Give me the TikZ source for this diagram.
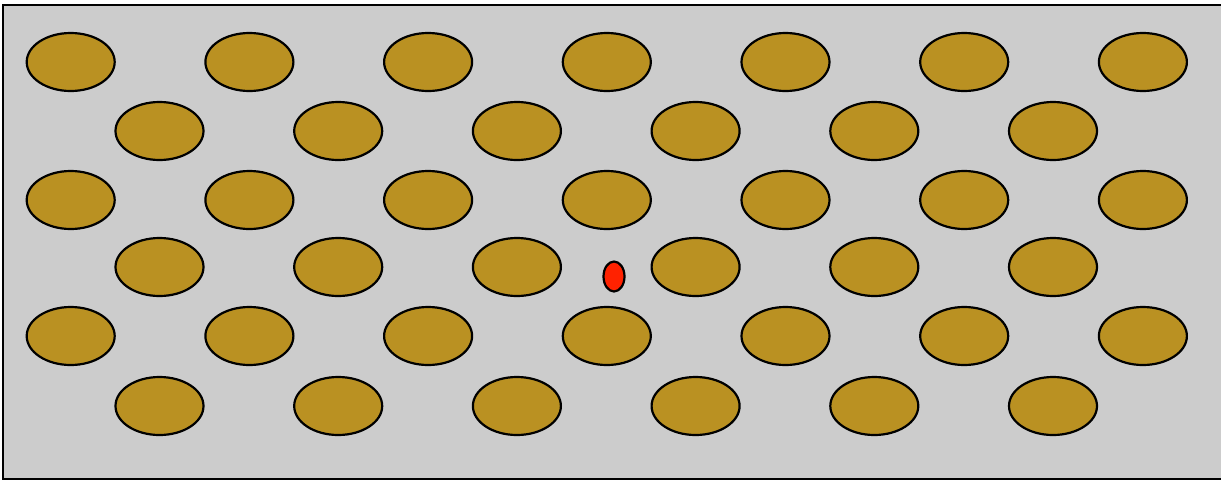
\documentclass[tikz,border=0pt]{standalone}
\definecolor{bg}{RGB}{204,204,204}
\definecolor{gold}{RGB}{186,145,34}
\definecolor{redp}{RGB}{255,34,0}
\begin{document}
\begin{tikzpicture}[x=1pt,y=-1pt,
  pore/.style={draw=black,line width=2.2pt,fill=gold},
  dot/.style={draw=black,line width=2.2pt,fill=redp}]
\useasboundingbox (0,0) rectangle (1221,480);
\draw[line width=2.4pt,fill=bg] (3,5) rectangle (1224,479);
\foreach \r/\y in {0/62,2/200,4/336}{
  \foreach \i in {0,...,6}{
    \path[pore] ({70.7+178.7*\i},\y) ellipse [x radius=44, y radius=29];
  }
}
\foreach \r/\y in {1/131,3/267,5/406}{
  \foreach \i in {0,...,5}{
    \path[pore] ({159.5+178.7*\i},\y) ellipse [x radius=44, y radius=29];
  }
}
\path[dot] (614,276.5) ellipse [x radius=10.5, y radius=15];
\end{tikzpicture}
\end{document}
